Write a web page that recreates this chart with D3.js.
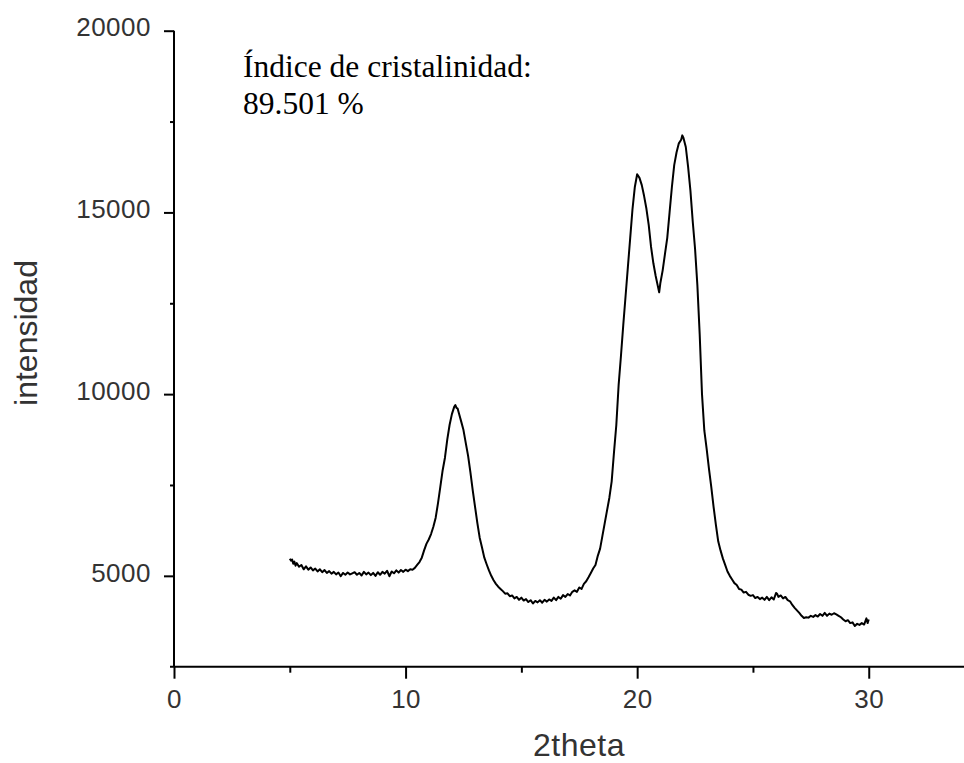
<!DOCTYPE html>
<html>
<head>
<meta charset="utf-8">
<script src="https://cdn.jsdelivr.net/npm/d3@7"></script>
<style>
  html, body { margin: 0; padding: 0; background: #fff; }
  svg { display: block; }
  .tick text { font-family: "Liberation Sans", Arial, sans-serif; font-size: 26px; fill: #333; letter-spacing: 0.5px; }
</style>
</head>
<body>
<svg id="chart" width="964" height="763"></svg>
<script>
// Diffraction pattern: 2theta (degrees) and measured intensity
const twoTheta = [
  5.00, 5.05, 5.10, 5.15, 5.20, 5.25, 5.30, 5.40, 5.50, 5.60, 5.70, 5.80, 5.90, 6.00,
  6.10, 6.20, 6.30, 6.40, 6.50, 6.60, 6.70, 6.80, 6.90, 7.00, 7.10, 7.20, 7.30, 7.40,
  7.50, 7.60, 7.70, 7.80, 7.90, 8.00, 8.10, 8.20, 8.30, 8.40, 8.50, 8.60, 8.70, 8.80,
  8.90, 9.00, 9.10, 9.20, 9.30, 9.40, 9.50, 9.60, 9.70, 9.80, 9.90, 10.00, 10.10, 10.20,
  10.30, 10.40, 10.50, 10.60, 10.70, 10.80, 10.90, 11.00, 11.10, 11.20, 11.30, 11.40,
  11.50, 11.60, 11.70, 11.80, 11.90, 12.00, 12.10, 12.15, 12.20, 12.25, 12.30, 12.40,
  12.50, 12.60, 12.70, 12.80, 12.90, 13.00, 13.10, 13.20, 13.30, 13.40, 13.50, 13.60,
  13.70, 13.80, 13.90, 14.00, 14.10, 14.20, 14.30, 14.40, 14.50, 14.60, 14.70, 14.80,
  14.90, 15.00, 15.10, 15.20, 15.30, 15.40, 15.50, 15.60, 15.70, 15.80, 15.90, 16.00,
  16.10, 16.20, 16.30, 16.40, 16.50, 16.60, 16.70, 16.80, 16.90, 17.00, 17.10, 17.20,
  17.30, 17.40, 17.50, 17.60, 17.70, 17.80, 17.90, 18.00, 18.10, 18.20, 18.30, 18.40,
  18.50, 18.60, 18.70, 18.80, 18.90, 19.00, 19.10, 19.20, 19.30, 19.40, 19.50, 19.60,
  19.70, 19.80, 19.90, 20.00, 20.05, 20.10, 20.20, 20.30, 20.40, 20.50, 20.60, 20.70,
  20.80, 20.90, 20.95, 21.00, 21.10, 21.20, 21.30, 21.40, 21.50, 21.60, 21.70, 21.80,
  21.90, 21.95, 22.00, 22.10, 22.20, 22.30, 22.40, 22.50, 22.60, 22.70, 22.80, 22.90,
  23.00, 23.10, 23.20, 23.30, 23.40, 23.50, 23.60, 23.70, 23.80, 23.90, 24.00, 24.10,
  24.20, 24.30, 24.40, 24.50, 24.60, 24.70, 24.80, 24.90, 25.00, 25.10, 25.20, 25.30,
  25.40, 25.50, 25.60, 25.70, 25.80, 25.90, 26.00, 26.05, 26.10, 26.20, 26.30, 26.40,
  26.50, 26.60, 26.70, 26.80, 26.90, 27.00, 27.10, 27.20, 27.30, 27.40, 27.50, 27.60,
  27.70, 27.80, 27.90, 28.00, 28.10, 28.20, 28.30, 28.40, 28.50, 28.60, 28.70, 28.80,
  28.90, 29.00, 29.10, 29.20, 29.30, 29.40, 29.50, 29.60, 29.70, 29.80, 29.90, 29.95,
  30.00
];
const intensity = [
  5470, 5420, 5450, 5330, 5390, 5280, 5350, 5250, 5300, 5180, 5260, 5170, 5230, 5150,
  5200, 5120, 5180, 5100, 5160, 5080, 5130, 5060, 5110, 5040, 5090, 4990, 5080, 5030,
  5090, 5040, 5070, 5100, 5030, 5080, 5010, 5110, 5040, 5090, 5020, 5080, 5000, 5100,
  5030, 5110, 5060, 5140, 4990, 5120, 5070, 5150, 5090, 5160, 5110, 5170, 5130, 5180,
  5170, 5220, 5300, 5380, 5500, 5700, 5880, 6000, 6150, 6350, 6600, 7000,
  7450, 7900, 8250, 8750, 9150, 9450, 9650, 9700, 9620, 9600, 9480, 9250,
  9010, 8650, 8300, 7850, 7350, 6900, 6450, 6050, 5780, 5500, 5320, 5150,
  5000, 4880, 4780, 4700, 4640, 4580, 4510, 4520, 4440, 4460, 4380, 4420,
  4340, 4400, 4320, 4360, 4280, 4330, 4240, 4310, 4270, 4330, 4260, 4340,
  4290, 4350, 4310, 4400, 4330, 4420, 4370, 4470, 4420, 4500, 4460, 4560,
  4600, 4560, 4680, 4640, 4780, 4850, 4960, 5080, 5200, 5300, 5550, 5750,
  6100, 6450, 6800, 7150, 7600, 8400, 9150, 10250, 11050, 11900, 12700, 13500,
  14300, 15100, 15700, 16050, 16000, 15950, 15750, 15450, 15100, 14650, 14050, 13600,
  13250, 12950, 12800, 13050, 13400, 13850, 14300, 15000, 15700, 16300, 16650, 16900,
  17000, 17120, 17050, 16800, 16250, 15600, 14750, 14000, 13000, 11650, 10000, 9000,
  8500, 7950, 7450, 6900, 6400, 5950, 5700, 5480, 5300, 5120, 5000, 4900,
  4800, 4750, 4640, 4620, 4540, 4560, 4480, 4450, 4470, 4390, 4420, 4360,
  4400, 4340, 4420, 4330, 4410, 4350, 4530, 4500, 4420, 4460, 4380, 4420,
  4330, 4300, 4200, 4120, 4050, 3980, 3900, 3840, 3860, 3850, 3900, 3870,
  3920, 3880, 3950, 3900, 3980, 3900, 3960, 3930, 3970, 3940, 3900, 3860,
  3800, 3750, 3780, 3700, 3720, 3620, 3680, 3650, 3700, 3660, 3830, 3700,
  3800
];

const xMajorTicks = [0, 10, 20, 30];
const xMinorTicks = [5, 15, 25];
const yMajorTicks = [5000, 10000, 15000, 20000];
const yMinorTicks = [7500, 12500, 17500];

const xTitle = "2theta";
const yTitle = "intensidad";
const noteLines = ["Índice de cristalinidad:", "89.501 %"];

const svg = d3.select("#chart");

const x = d3.scaleLinear().domain([0, 34.2]).range([174, 966]);
const y = d3.scaleLinear().domain([2500, 20000]).range([666.7, 30.7]);

const axisStroke = (g) => {
  g.selectAll("line").attr("stroke", "#000").attr("stroke-width", 2);
  g.select(".domain").remove();
};

// x axis: major ticks with labels, minor ticks without
svg.append("g")
  .attr("transform", `translate(0,${y(2500)})`)
  .call(d3.axisBottom(x).tickValues(xMajorTicks).tickSize(12).tickPadding(11)
    .tickFormat(d3.format("d")))
  .call(axisStroke);
svg.append("g")
  .attr("transform", `translate(0,${y(2500)})`)
  .call(d3.axisBottom(x).tickValues(xMinorTicks).tickSize(6).tickFormat(""))
  .call(axisStroke);

// y axis
svg.append("g")
  .attr("transform", `translate(${x(0)},0)`)
  .call(d3.axisLeft(y).tickValues(yMajorTicks).tickSize(10).tickPadding(13)
    .tickFormat(d3.format("d")))
  .call(axisStroke)
  .call(g => g.selectAll("text").attr("dy", "0.2em"));
svg.append("g")
  .attr("transform", `translate(${x(0)},0)`)
  .call(d3.axisLeft(y).tickValues(yMinorTicks).tickSize(4).tickFormat(""))
  .call(axisStroke);

// axis lines
svg.append("line")
  .attr("x1", x(0) - 4).attr("x2", 964)
  .attr("y1", y(2500)).attr("y2", y(2500))
  .attr("stroke", "#000").attr("stroke-width", 2);
svg.append("line")
  .attr("x1", x(0)).attr("x2", x(0))
  .attr("y1", y(20000)).attr("y2", y(2500))
  .attr("stroke", "#000").attr("stroke-width", 2);

// pattern trace
const pts = twoTheta.map((t, i) => [t, intensity[i]]);
svg.append("path")
  .datum(pts)
  .attr("fill", "none")
  .attr("stroke", "#000")
  .attr("stroke-width", 2)
  .attr("stroke-linejoin", "round")
  .attr("d", d3.line().x(d => x(d[0])).y(d => y(d[1])));

// axis titles
svg.append("text")
  .attr("x", 579).attr("y", 756)
  .attr("text-anchor", "middle")
  .attr("font-family", "Liberation Sans, Arial, sans-serif")
  .attr("font-size", 32).attr("fill", "#333")
  .attr("letter-spacing", "0.5px")
  .text(xTitle);
svg.append("text")
  .attr("transform", "translate(37,333) rotate(-90)")
  .attr("text-anchor", "middle")
  .attr("font-family", "Liberation Sans, Arial, sans-serif")
  .attr("font-size", 32).attr("fill", "#333")
  .text(yTitle);

// crystallinity note
svg.append("g")
  .selectAll("text")
  .data(noteLines)
  .join("text")
  .attr("x", 243)
  .attr("y", (d, i) => 77 + i * 37)
  .attr("font-family", "Liberation Serif, 'Times New Roman', serif")
  .attr("font-size", 31.5).attr("fill", "#000")
  .text(d => d);
</script>
</body>
</html>
